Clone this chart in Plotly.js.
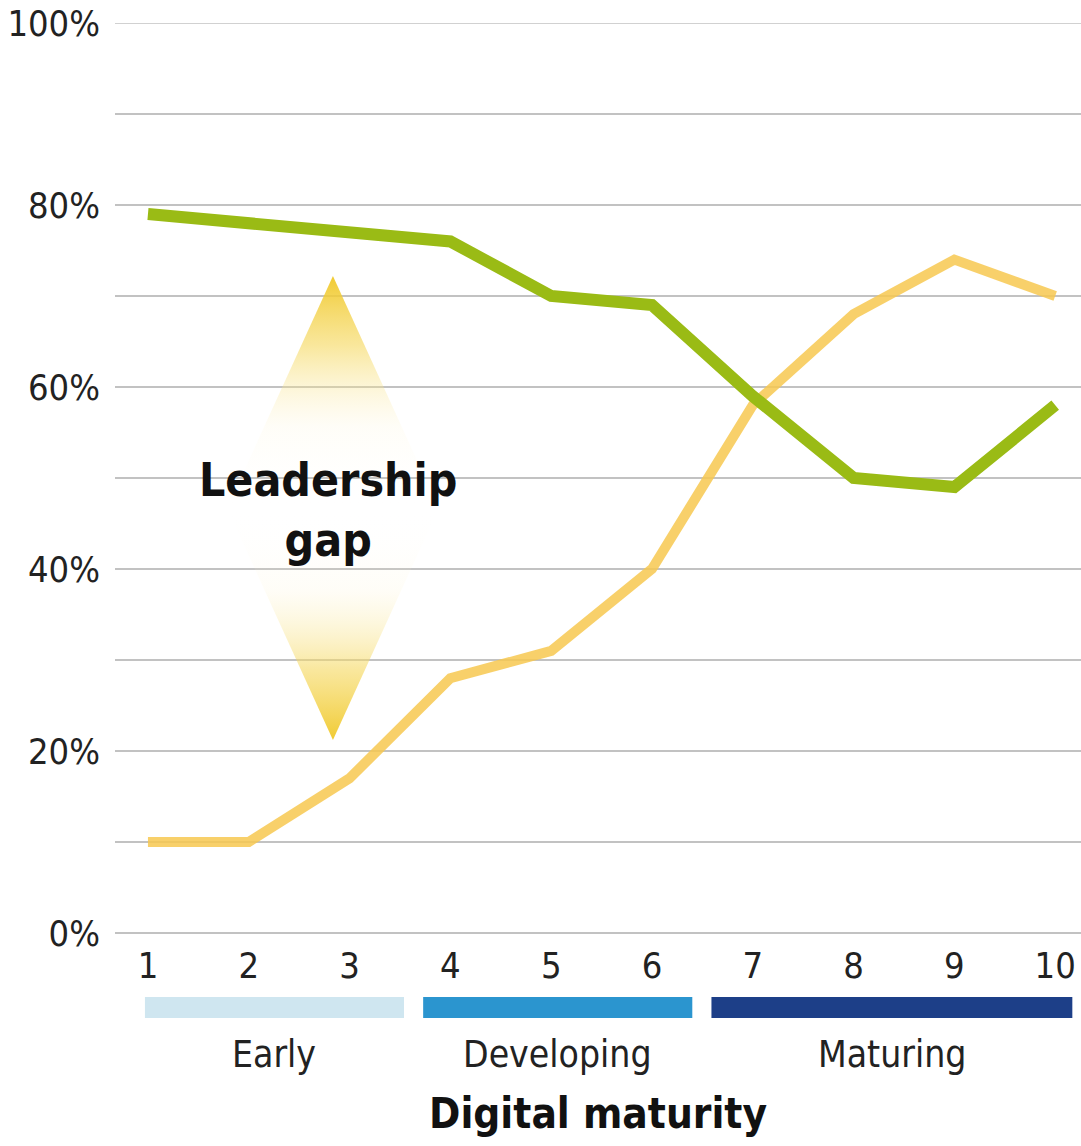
<!DOCTYPE html>
<html>
<head>
<meta charset="utf-8">
<script src="https://cdn.plot.ly/plotly-3.0.1.min.js"></script>
<style>
html,body{margin:0;padding:0;background:#fff;}
#chart{width:1081px;height:1146px;}
</style>
</head>
<body>
<div id="chart"></div>
<script>
// ---- data ----
const maturity = [1, 2, 3, 4, 5, 6, 7, 8, 9, 10];
const greenSeries = [79, 78, 77, 76, 70, 69, 59, 50, 49, 58];
const yellowSeries = [10, 10, 17, 28, 31, 40, 58, 68, 74, 70];
const yTickVals = [0, 10, 20, 30, 40, 50, 60, 70, 80, 90, 100];
const yTickText = ['0%', '', '20%', '', '40%', '', '60%', '', '80%', '', '100%'];
const stageNames = ['Early', 'Developing', 'Maturing'];
const stageStart = [0.97, 3.73, 6.59];
const stageEnd = [3.54, 6.40, 10.17];
const stageColors = ['#cfe6f0', '#2b95cf', '#1d3f88'];
const gapLabel = 'Leadership<br>gap';
const xTitle = 'Digital maturity';

const FONT = '"Liberation Sans Narrow", "Arial Narrow", "DejaVu Sans Condensed", sans-serif';
const GRID = '#c2c2c2';

// decorative "gap" diamond (annotation graphic)
const gx = 2.835, gTop = 72.2, gBot = 21.2, gMid = 46.7, gHalf = 1.05;
const gapScale = [[0, 'rgba(255,255,255,0)'], [0.35, 'rgba(252,240,190,0.12)'], [0.7, 'rgba(245,215,90,0.6)'], [1, 'rgba(240,200,40,0.95)']];
const gapTop = {
  x: [gx - gHalf, gx, gx + gHalf, gx - gHalf],
  y: [gMid, gTop, gMid, gMid],
  mode: 'lines', line: {width: 0}, fill: 'toself', hoverinfo: 'skip', showlegend: false,
  fillgradient: {type: 'vertical', start: gMid, stop: gTop, colorscale: gapScale}
};
const gapBot = {
  x: [gx - gHalf, gx, gx + gHalf, gx - gHalf],
  y: [gMid, gBot, gMid, gMid],
  mode: 'lines', line: {width: 0}, fill: 'toself', hoverinfo: 'skip', showlegend: false,
  fillgradient: {type: 'vertical', start: gMid, stop: gBot, colorscale: gapScale}
};

const traces = [
  gapTop, gapBot,
  {x: maturity, y: yellowSeries, mode: 'lines', line: {color: 'rgba(247,200,80,0.85)', width: 10}, showlegend: false, hoverinfo: 'skip'},
  {x: maturity, y: greenSeries, mode: 'lines', line: {color: '#9abb15', width: 12}, showlegend: false, hoverinfo: 'skip'}
];

const shapes = stageNames.map((n, i) => ({
  type: 'rect', xref: 'x', yref: 'paper',
  x0: stageStart[i], x1: stageEnd[i], y0: -0.0934, y1: -0.0703,
  fillcolor: stageColors[i], line: {width: 0}
}));
shapes.push({type: 'line', xref: 'paper', yref: 'y', x0: 0, x1: 1, y0: 100, y1: 100,
  line: {color: GRID, width: 1.5}, layer: 'below'});

const annotations = stageNames.map((n, i) => ({
  text: n, xref: 'x', yref: 'paper', x: (stageStart[i] + stageEnd[i]) / 2, y: -0.134,
  showarrow: false, font: {family: FONT, size: 37, color: '#222'}, yanchor: 'middle'
}));
annotations.push({
  text: xTitle, xref: 'paper', yref: 'paper', x: 0.5, y: -0.198, showarrow: false,
  font: {family: FONT, size: 42, color: '#111', weight: 'bold'}, yanchor: 'middle'
});
annotations.push({
  text: gapLabel, xref: 'x', yref: 'y', x: gx - 0.05, y: 46.5, showarrow: false,
  font: {family: FONT, size: 46, color: '#111', weight: 'bold'}, yanchor: 'middle'
});

const layout = {
  width: 1081, height: 1146,
  margin: {l: 115, r: 0, t: 23, b: 213},
  paper_bgcolor: '#fff', plot_bgcolor: '#fff',
  showlegend: false,
  xaxis: {
    range: [0.673, 10.256], tickvals: maturity, ticktext: maturity.map(String),
    showgrid: false, zeroline: false, showline: false, ticks: '',
    tickfont: {family: FONT, size: 36, color: '#222'}, ticklabelstandoff: 8
  },
  yaxis: {
    range: [0, 100], tickvals: yTickVals, ticktext: yTickText,
    showgrid: true, gridcolor: GRID, gridwidth: 1.5,
    zeroline: true, zerolinecolor: GRID, zerolinewidth: 1.5, showline: false, ticks: '',
    tickfont: {family: FONT, size: 36, color: '#222'}, ticklabelstandoff: 14
  },
  shapes: shapes,
  annotations: annotations
};

Plotly.newPlot('chart', traces, layout, {staticPlot: true, displayModeBar: false});
</script>
</body>
</html>
